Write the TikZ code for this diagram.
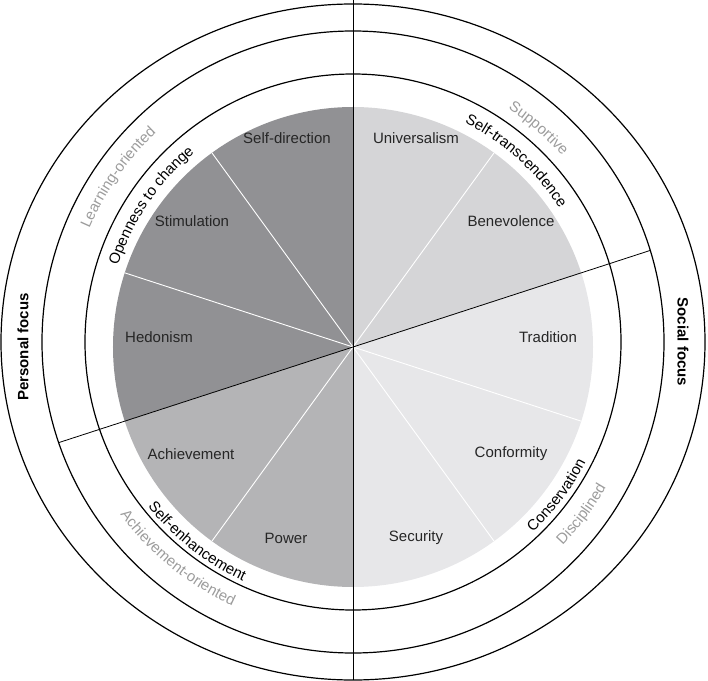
\documentclass[tikz,border=0pt]{standalone}
\usepackage{fontspec}
\setmainfont{Liberation Sans}
\usetikzlibrary{decorations.text}

\definecolor{openness}{HTML}{919194}
\definecolor{enhance}{HTML}{B4B4B6}
\definecolor{transcend}{HTML}{D5D5D7}
\definecolor{conserve}{HTML}{E7E7E9}
\definecolor{valuetext}{HTML}{262626}
\definecolor{softgray}{HTML}{9C9C9C}

\newcommand{\arcfont}{\fontsize{15}{18}\selectfont}
\newcommand{\softfont}{\fontsize{15}{18}\selectfont\color{softgray}}

\begin{document}
\begin{tikzpicture}[x=1pt, y=1pt,
    value/.style={font=\fontsize{15}{18}\selectfont, text=valuetext},
    focus/.style={font=\fontsize{15}{18}\selectfont\bfseries},
    ring/.style={draw=black, line width=1.2pt},
    divider/.style={draw=black, line width=0.8pt},
    arclabel/.style={decorate, decoration={text along path, text align=center, text={#1}}}]
    \useasboundingbox (-353,-338) rectangle (355,342);
    \coordinate (pc) at (0,-5);

    % Pie slices
    \foreach \a/\col in {342/conserve, 18/transcend, 54/transcend,
        90/openness, 126/openness, 162/openness,
        198/enhance, 234/enhance, 270/conserve, 306/conserve}{
        \fill[fill=\col] (pc) -- ++(\a:240) arc[start angle=\a, end angle=\a+36, radius=240] -- cycle;
    }

    % White separators between values
    \foreach \a in {54,126,162,234,306,342}{
        \draw[white, line width=0.9pt] (pc) -- ++(\a:240);
    }

    % Rings
    \draw[ring] (0,0) circle[radius=268];
    \draw[ring] (0,0) circle[radius=311];
    \draw[ring] (0,0) ellipse[x radius=352, y radius=338];

    % Dividing lines
    \coordinate (top) at (0,342);
    \coordinate (bottom) at (0,-338);
    \path (pc) ++(18:312.5) coordinate (sectR);
    \path (pc) ++(198:309.4) coordinate (sectL);
    \draw[divider] (top) -- (bottom);
    \draw[divider] (sectL) -- (sectR);

    % Value labels
    \node[value] (selfdir) at (-66,204) {Self-direction};
    \node[value] (univ) at (63,204) {Universalism};
    \node[value] (stim) at (-161,121) {Stimulation};
    \node[value] (benev) at (158,121) {Benevolence};
    \node[value] (hedon) at (-194,5) {Hedonism};
    \node[value] (trad) at (195,5) {Tradition};
    \node[value] (achiev) at (-162,-112) {Achievement};
    \node[value] (conf) at (158,-112) {Conformity};
    \node[value] (power) at (-67,-196) {Power};
    \node[value] (secur) at (63,-196) {Security};

    % Higher-order values
    \path[arclabel={|\arcfont|Openness to change}]
        (176:247) arc[start angle=176, end angle=116, radius=247];
    \path[arclabel={|\arcfont|Self-transcendence}]
        (78:246) arc[start angle=78, end angle=18, radius=246];
    \path[arclabel={|\arcfont|Conservation}]
        (-67:262) arc[start angle=-67, end angle=-7, radius=262];
    \path[arclabel={|\arcfont|Self-enhancement}]
        (202:263) arc[start angle=202, end angle=262, radius=263];

    % Orientations
    \path[arclabel={|\softfont|Learning-oriented}]
        (175:287) arc[start angle=175, end angle=115, radius=287];
    \path[arclabel={|\softfont|Supportive}]
        (79:280) arc[start angle=79, end angle=19, radius=280];
    \path[arclabel={|\softfont|Disciplined}]
        (-67:292) arc[start angle=-67, end angle=-7, radius=292];
    \path[arclabel={|\softfont|Achievement-oriented}]
        (201:290) arc[start angle=201, end angle=261, radius=290];

    % Focus
    \node[focus, rotate=90] (personal) at (-330,-5) {Personal focus};
    \node[focus, rotate=-90] (social) at (330,0) {Social focus};
\end{tikzpicture}
\end{document}
